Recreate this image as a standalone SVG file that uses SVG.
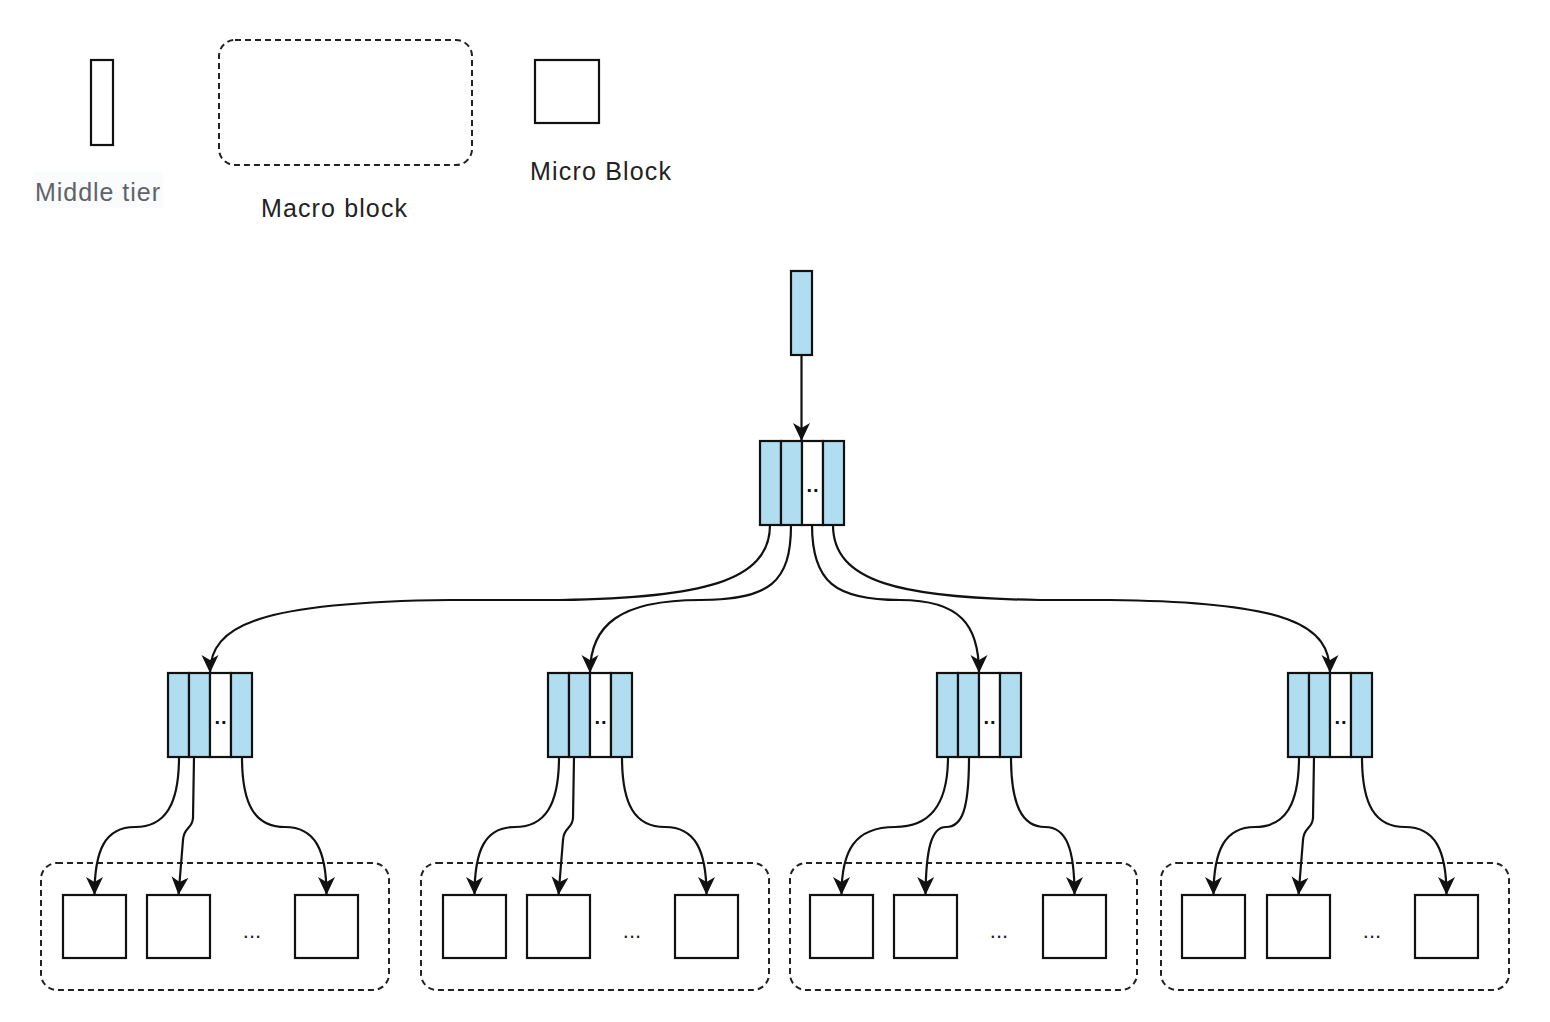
<svg xmlns="http://www.w3.org/2000/svg" width="1550" height="1022" viewBox="0 0 1550 1022">
<style>
.blue{fill:#b1ddf0;stroke:#111;stroke-width:2.2}
.white{fill:#fff;stroke:#111;stroke-width:2.2}
.micro{fill:#fff;stroke:#111;stroke-width:2.2}
.macro{fill:none;stroke:#222;stroke-width:2;stroke-dasharray:6 4}
.edge{fill:none;stroke:#111;stroke-width:2.2;marker-end:url(#arr)}
.lbl{font-family:"Liberation Sans","Noto Sans",sans-serif;font-size:25px;fill:#222}
.dots{font-family:"Liberation Sans",sans-serif;font-size:20px;font-weight:bold;fill:#111;text-anchor:middle;letter-spacing:1px}
.ell{font-family:"Liberation Sans",sans-serif;font-size:22px;fill:#222;text-anchor:middle}
</style>
<defs>
<marker id="arr" markerUnits="userSpaceOnUse" markerWidth="18" markerHeight="18" viewBox="0 0 18 18" refX="18" refY="9" orient="auto">
<path d="M0,0.5 L18,9 L0,17.5 L5,9 Z" fill="#111"/>
</marker>
<g id="mid">
<rect class="blue" x="0" y="0" width="21" height="84"/>
<rect class="blue" x="21" y="0" width="21" height="84"/>
<rect class="white" x="42" y="0" width="21" height="84"/>
<rect class="blue" x="63" y="0" width="21" height="84"/>
<text class="dots" x="53" y="51">..</text>
</g>
</defs>
<rect width="1550" height="1022" fill="#fff"/>

<g id="legend-middle">
<rect x="33" y="172" width="130" height="36" fill="#fafbfc"/>
<rect class="white" x="91" y="60" width="22" height="85"/>
<text class="lbl" x="35" y="201" style="fill:#5f6368" textLength="125">Middle tier</text>
</g>
<g id="legend-macro">
<rect class="macro" x="219" y="40" width="253" height="125" rx="16"/>
<text class="lbl" x="261" y="217" textLength="146">Macro block</text>
</g>
<g id="legend-micro">
<rect class="micro" x="535" y="60" width="64" height="63"/>
<text class="lbl" x="530" y="180" textLength="141">Micro Block</text>
</g>

<g id="root"><rect class="blue" x="791" y="271" width="21" height="84"/></g>
<g id="top"><use href="#mid" x="760" y="441"/></g>
<g id="mid1"><use href="#mid" x="168" y="673"/></g>
<g id="mid2"><use href="#mid" x="548" y="673"/></g>
<g id="mid3"><use href="#mid" x="937" y="673"/></g>
<g id="mid4"><use href="#mid" x="1288" y="673"/></g>

<g id="macro1">
<rect class="macro" x="41" y="863" width="348" height="127" rx="16"/>
<rect class="micro" x="63" y="895" width="63" height="63"/>
<rect class="micro" x="147" y="895" width="63" height="63"/>
<rect class="micro" x="295" y="895" width="63" height="63"/>
<text class="ell" x="252" y="938">...</text>
</g>
<g id="macro2">
<rect class="macro" x="421" y="863" width="348" height="127" rx="16"/>
<rect class="micro" x="443" y="895" width="63" height="63"/>
<rect class="micro" x="527" y="895" width="63" height="63"/>
<rect class="micro" x="675" y="895" width="63" height="63"/>
<text class="ell" x="632" y="938">...</text>
</g>
<g id="macro3">
<rect class="macro" x="790" y="863" width="347" height="127" rx="16"/>
<rect class="micro" x="810" y="895" width="63" height="63"/>
<rect class="micro" x="894" y="895" width="63" height="63"/>
<rect class="micro" x="1043" y="895" width="63" height="63"/>
<text class="ell" x="999" y="938">...</text>
</g>
<g id="macro4">
<rect class="macro" x="1161" y="863" width="348" height="127" rx="16"/>
<rect class="micro" x="1182" y="895" width="63" height="63"/>
<rect class="micro" x="1267" y="895" width="63" height="63"/>
<rect class="micro" x="1415" y="895" width="63" height="63"/>
<text class="ell" x="1372" y="938">...</text>
</g>

<g id="connectors">
<path class="edge" d="M801.5,355 L801.5,441"/>
<path class="edge" d="M770,525 C770,582 700,598 560,600 L450,600 C260,602 210,625 210,673"/>
<path class="edge" d="M791,525 C791,582 770,600 700,600 C620,600 590,625 590,673"/>
<path class="edge" d="M812,525 C812,582 835,600 900,600 C960,600 979,625 979,673"/>
<path class="edge" d="M833,525 C833,582 900,598 1040,600 L1110,600 C1290,602 1330,625 1330,673"/>

<path class="edge" d="M179,757 C179,805 165,827 135,827 C105,827 94.5,850 94.5,895"/>
<path class="edge" d="M194,757 L193,818 C192,830 184,826 183,840 L178.5,895"/>
<path class="edge" d="M242,757 C242,805 255,827 285,827 C315,827 326.5,850 326.5,895"/>

<path class="edge" d="M559,757 C559,805 545,827 515,827 C485,827 474.5,850 474.5,895"/>
<path class="edge" d="M574,757 L573,818 C572,830 564,826 563,840 L558.5,895"/>
<path class="edge" d="M622,757 C622,805 635,827 665,827 C695,827 706.5,850 706.5,895"/>

<path class="edge" d="M948,757 C948,805 930,827 895,827 C855,827 841.5,850 841.5,895"/>
<path class="edge" d="M969,757 C969,810 962,827 946,827 C931,827 926,850 925.5,895"/>
<path class="edge" d="M1011,757 C1011,805 1022,827 1045,827 C1067,827 1074.5,850 1074.5,895"/>

<path class="edge" d="M1299,757 C1299,805 1285,827 1255,827 C1225,827 1213.5,850 1213.5,895"/>
<path class="edge" d="M1314,757 L1313,818 C1312,830 1304,826 1303,840 L1298.5,895"/>
<path class="edge" d="M1362,757 C1362,805 1375,827 1405,827 C1435,827 1446.5,850 1446.5,895"/>
</g>
</svg>
